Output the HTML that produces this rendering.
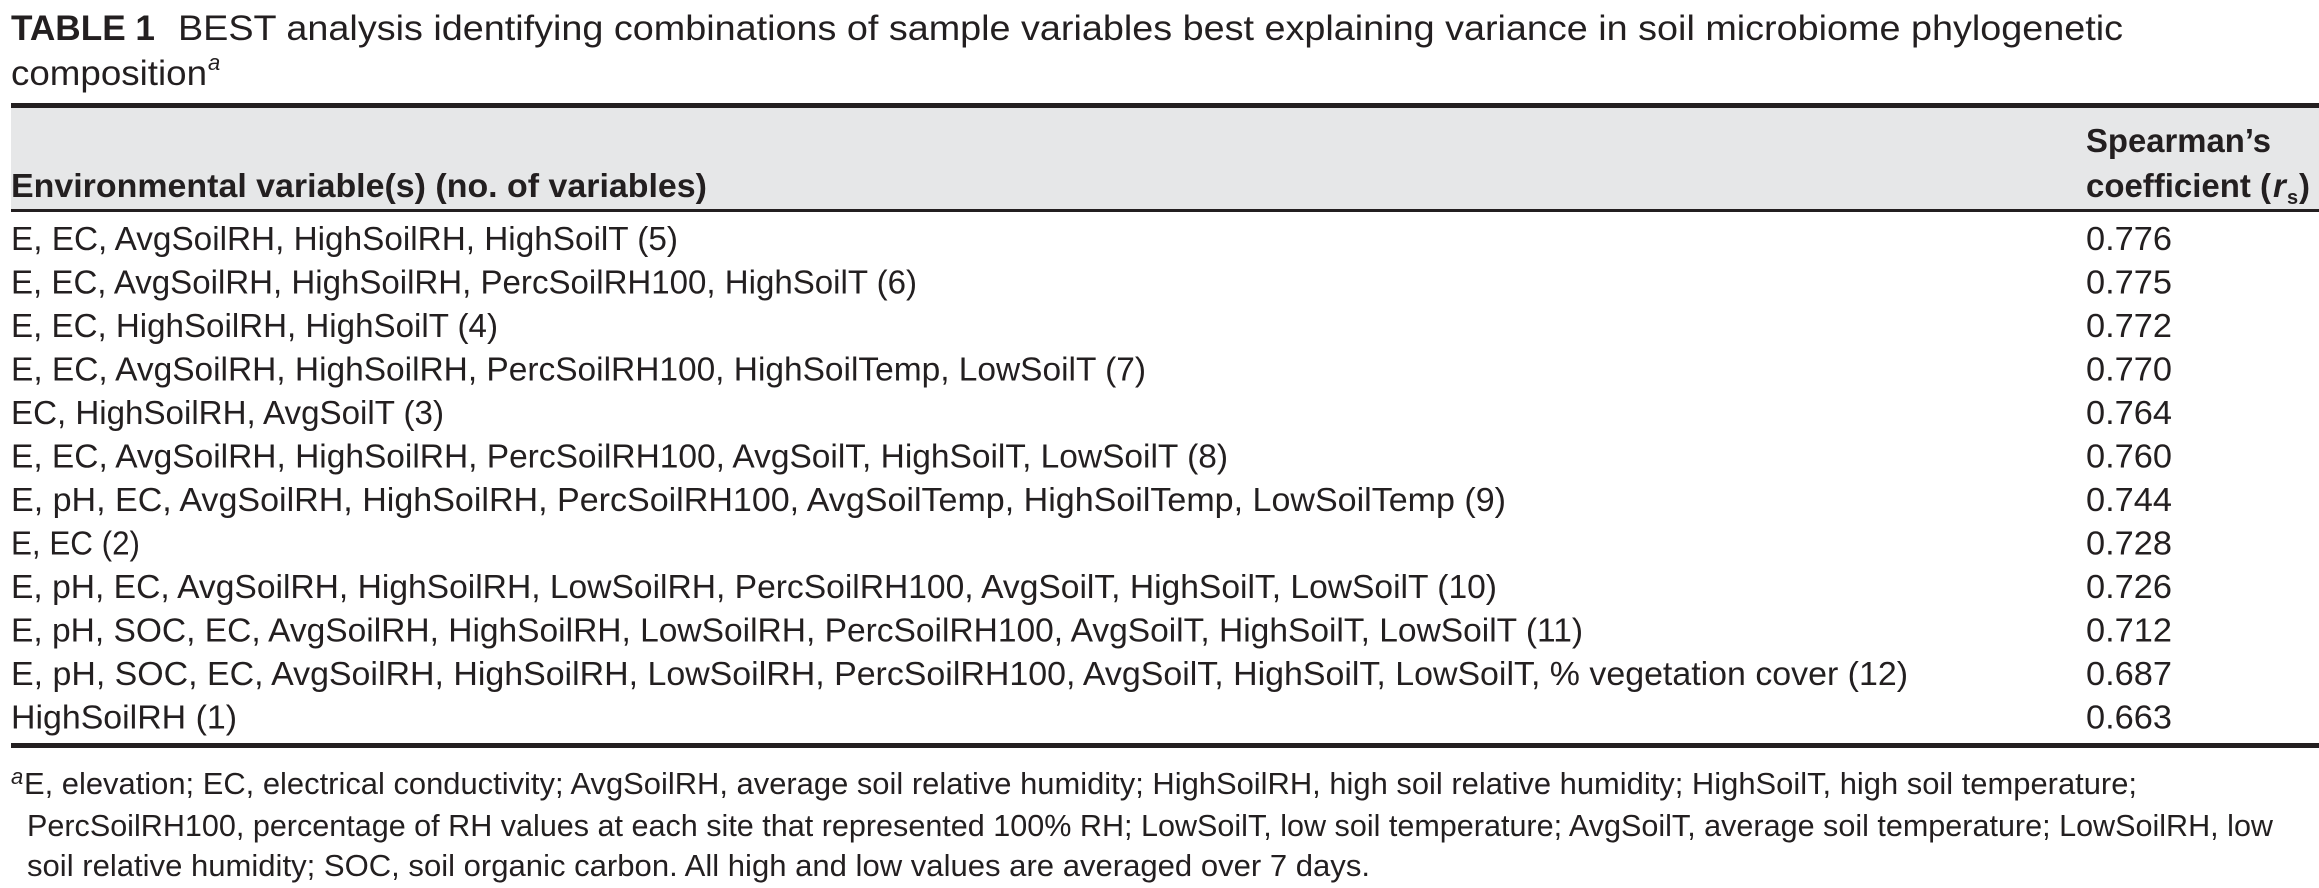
<!DOCTYPE html>
<html><head><meta charset="utf-8"><style>
html,body{margin:0;padding:0;background:#fff;}
svg{display:block;}
text{font-family:"Liberation Sans",sans-serif;fill:#231f20;}
</style></head><body>
<svg id="t" width="2319" height="888" viewBox="0 0 2319 888" xmlns="http://www.w3.org/2000/svg">
<text x="11" y="40" font-size="35" font-weight="bold" textLength="144" lengthAdjust="spacingAndGlyphs">TABLE 1</text>
<text x="178" y="40" font-size="35" textLength="1945" lengthAdjust="spacingAndGlyphs">BEST analysis identifying combinations of sample variables best explaining variance in soil microbiome phylogenetic</text>
<text x="11" y="85" font-size="35" textLength="196" lengthAdjust="spacingAndGlyphs">composition</text>
<text x="208" y="70" font-size="22" font-style="italic">a</text>
<rect x="11" y="103" width="2308" height="5" fill="#231f20"/>
<rect x="11" y="108" width="2308" height="101" fill="#e6e7e8"/>
<text x="11" y="197" font-size="33" font-weight="bold" textLength="696" lengthAdjust="spacingAndGlyphs">Environmental variable(s) (no. of variables)</text>
<text x="2086" y="152" font-size="33" font-weight="bold" textLength="185" lengthAdjust="spacingAndGlyphs">Spearman’s</text>
<text x="2086" y="197" font-size="33" font-weight="bold" textLength="185" lengthAdjust="spacingAndGlyphs">coefficient (</text>
<text x="2273" y="197" font-size="33" font-weight="bold" font-style="italic">r</text>
<text x="2287" y="204" font-size="20" font-weight="bold">s</text>
<text x="2299" y="197" font-size="33" font-weight="bold">)</text>
<rect x="11" y="209" width="2308" height="3" fill="#231f20"/>
<g id="rows"></g>
<rect x="11" y="743" width="2308" height="5" fill="#231f20"/>
<text x="11" y="784" font-size="22" font-style="italic">a</text>
<text x="24" y="794" font-size="31" textLength="2113" lengthAdjust="spacingAndGlyphs">E, elevation; EC, electrical conductivity; AvgSoilRH, average soil relative humidity; HighSoilRH, high soil relative humidity; HighSoilT, high soil temperature;</text>
<text x="27" y="836" font-size="31" textLength="2246" lengthAdjust="spacingAndGlyphs">PercSoilRH100, percentage of RH values at each site that represented 100% RH; LowSoilT, low soil temperature; AvgSoilT, average soil temperature; LowSoilRH, low</text>
<text x="27" y="876" font-size="31" textLength="1343" lengthAdjust="spacingAndGlyphs">soil relative humidity; SOC, soil organic carbon. All high and low values are averaged over 7 days.</text>
</svg>
<script>
const variables = [
"E, EC, AvgSoilRH, HighSoilRH, HighSoilT (5)",
"E, EC, AvgSoilRH, HighSoilRH, PercSoilRH100, HighSoilT (6)",
"E, EC, HighSoilRH, HighSoilT (4)",
"E, EC, AvgSoilRH, HighSoilRH, PercSoilRH100, HighSoilTemp, LowSoilT (7)",
"EC, HighSoilRH, AvgSoilT (3)",
"E, EC, AvgSoilRH, HighSoilRH, PercSoilRH100, AvgSoilT, HighSoilT, LowSoilT (8)",
"E, pH, EC, AvgSoilRH, HighSoilRH, PercSoilRH100, AvgSoilTemp, HighSoilTemp, LowSoilTemp (9)",
"E, EC (2)",
"E, pH, EC, AvgSoilRH, HighSoilRH, LowSoilRH, PercSoilRH100, AvgSoilT, HighSoilT, LowSoilT (10)",
"E, pH, SOC, EC, AvgSoilRH, HighSoilRH, LowSoilRH, PercSoilRH100, AvgSoilT, HighSoilT, LowSoilT (11)",
"E, pH, SOC, EC, AvgSoilRH, HighSoilRH, LowSoilRH, PercSoilRH100, AvgSoilT, HighSoilT, LowSoilT, % vegetation cover (12)",
"HighSoilRH (1)"
];
const coefficients = ["0.776","0.775","0.772","0.770","0.764","0.760","0.744","0.728","0.726","0.712","0.687","0.663"];
const textWidths = [667,906,487,1135,433,1217,1495,129,1486,1572,1897,226];
const NS = "http://www.w3.org/2000/svg";
const g = document.getElementById('rows');
const rowY = i => 250 + i * 43.5;
variables.forEach((v, i) => {
  const t = document.createElementNS(NS, 'text');
  
  
  t.setAttribute('x', 11); t.setAttribute('y', rowY(i));
  t.setAttribute('font-size', 33);
  t.setAttribute('textLength', textWidths[i]);
  t.setAttribute('lengthAdjust', 'spacingAndGlyphs');
  t.textContent = v;
  g.appendChild(t);
  const c = document.createElementNS(NS, 'text');
  
  
  c.setAttribute('x', 2086); c.setAttribute('y', rowY(i));
  c.setAttribute('font-size', 33);
  c.setAttribute('textLength', 86);
  c.setAttribute('lengthAdjust', 'spacingAndGlyphs');
  c.textContent = coefficients[i];
  g.appendChild(c);
});
</script>
</body></html>
